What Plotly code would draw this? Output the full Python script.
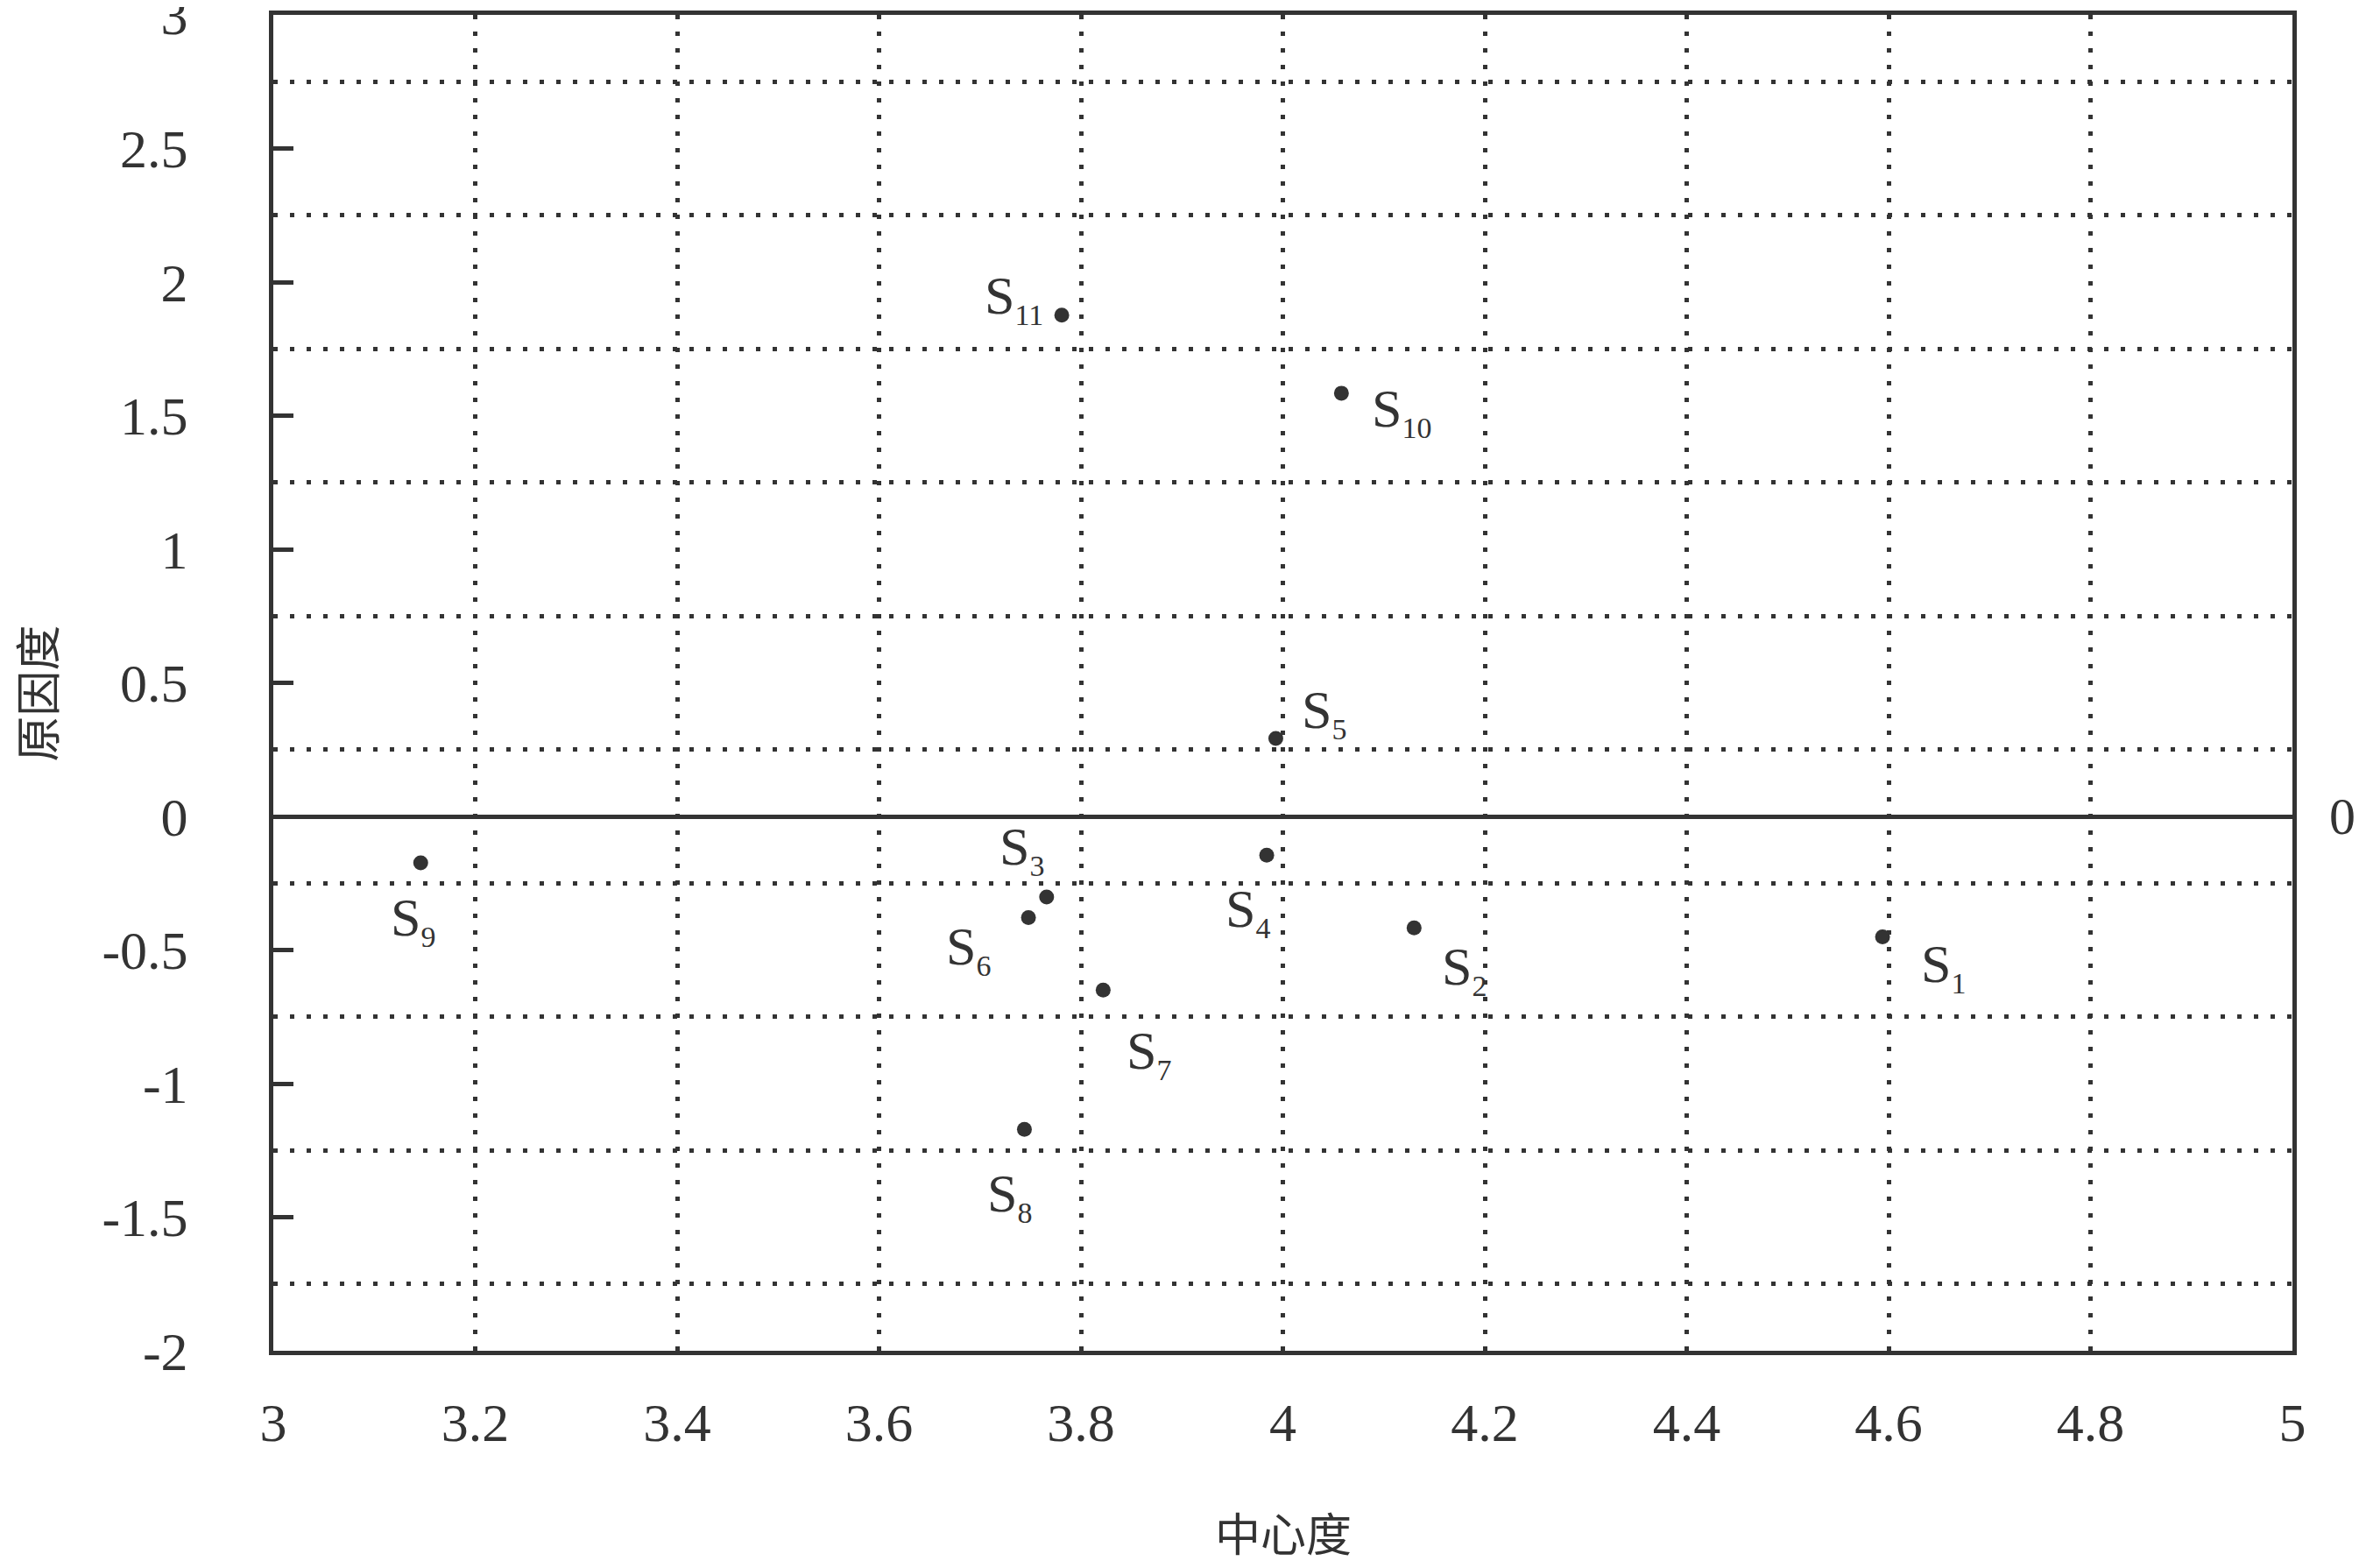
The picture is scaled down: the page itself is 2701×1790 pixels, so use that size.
import plotly.graph_objects as go

# ---- data ----
names = ["S1", "S2", "S3", "S4", "S5", "S6", "S7", "S8", "S9", "S10", "S11"]
centrality = [4.594, 4.130, 3.766, 3.984, 3.993, 3.748, 3.822, 3.744, 3.146, 4.058, 3.781]
cause = [-0.451, -0.417, -0.302, -0.145, 0.292, -0.379, -0.650, -1.171, -0.174, 1.584, 1.876]

x_ticks = [3.0, 3.2, 3.4, 3.6, 3.8, 4.0, 4.2, 4.4, 4.6, 4.8, 5.0]
x_ticktext = ["3", "3.2", "3.4", "3.6", "3.8", "4", "4.2", "4.4", "4.6", "4.8", "5"]
y_ticks = [-2, -1.5, -1, -0.5, 0, 0.5, 1, 1.5, 2, 2.5, 3]
y_ticktext = ["-2", "-1.5", "-1", "-0.5", "0", "0.5", "1", "1.5", "2", "2.5", "3"]
y_grid = [-1.75, -1.25, -0.75, -0.25, 0.25, 0.75, 1.25, 1.75, 2.25, 2.75]

x_title = "中心度"
y_title = "原因度"

# label offsets (px) relative to each point: style only
label_offsets = {
    "S1": (69, -34), "S2": (57, -47), "S3": (-28, 55), "S4": (-22, -64),
    "S5": (55, 29), "S6": (-69, -36), "S7": (52, -72), "S8": (-17, -76),
    "S9": (-9, -65), "S10": (69, -21), "S11": (-55, 19),
}

INK = "#333333"
SERIF = "Liberation Serif, Times New Roman, serif"
CJK = "Noto Sans CJK SC, sans-serif"

fig = go.Figure()
fig.add_trace(go.Scatter(
    x=centrality, y=cause, mode="markers",
    marker=dict(size=17, color=INK),
    hoverinfo="skip", showlegend=False,
))

for n, xv, yv in zip(names, centrality, cause):
    dx, dy = label_offsets[n]
    sub = n[1:]
    fig.add_annotation(
        x=xv, y=yv, xref="x", yref="y",
        text="S<sub><span style='font-size:34px'>%s</span></sub>" % sub,
        showarrow=False, xshift=dx, yshift=dy,
        xanchor="center", yanchor="middle",
        font=dict(family=SERIF, size=62, color=INK),
    )

# right-hand "0" label at y = 0
fig.add_annotation(
    x=1, y=0, xref="paper", yref="y", text="0", showarrow=False,
    xanchor="left", yanchor="middle", xshift=40,
    font=dict(family=SERIF, size=60, color=INK),
)

# axis titles as annotations for exact placement
fig.add_annotation(
    x=0.5, y=0, xref="paper", yref="paper", text=x_title, showarrow=False,
    xanchor="center", yanchor="middle", yshift=-206,
    font=dict(family=CJK, size=52, color=INK),
)
fig.add_annotation(
    x=0, y=0.5, xref="paper", yref="paper", text=y_title, showarrow=False,
    xanchor="center", yanchor="middle", xshift=-272, yshift=-12, textangle=-90,
    font=dict(family=CJK, size=52, color=INK),
)

dot_dash = "5px,14px"

fig.update_xaxes(
    range=[3, 5], tickmode="array", tickvals=x_ticks, ticktext=x_ticktext,
    showgrid=True, gridcolor=INK, gridwidth=5, griddash=dot_dash,
    showline=True, linecolor=INK, linewidth=5, mirror=True,
    ticks="", zeroline=False, automargin=False,
    tickfont=dict(family=SERIF, size=62, color=INK),
    ticklabelstandoff=24, ticklabeloverflow="allow",
)
fig.update_yaxes(
    range=[-2, 3], tickmode="array", tickvals=y_ticks, ticktext=y_ticktext,
    showgrid=False,
    minor=dict(tickmode="array", tickvals=y_grid, showgrid=True, gridcolor=INK,
               gridwidth=5, griddash=dot_dash, ticks=""),
    showline=True, linecolor=INK, linewidth=5, mirror=True,
    ticks="inside", ticklen=23, tickwidth=5, tickcolor=INK,
    zeroline=True, zerolinecolor=INK, zerolinewidth=5, automargin=False,
    tickfont=dict(family=SERIF, size=62, color=INK),
    ticklabelstandoff=80, ticklabeloverflow="allow",
)

# page body adds an 8px margin on each side; size the figure to fit the window
fig.update_layout(
    width=2685, height=1774, autosize=False,
    margin=dict(l=304, r=76, t=9, b=240),
    paper_bgcolor="white", plot_bgcolor="white",
)

fig.write_html("out.html")
